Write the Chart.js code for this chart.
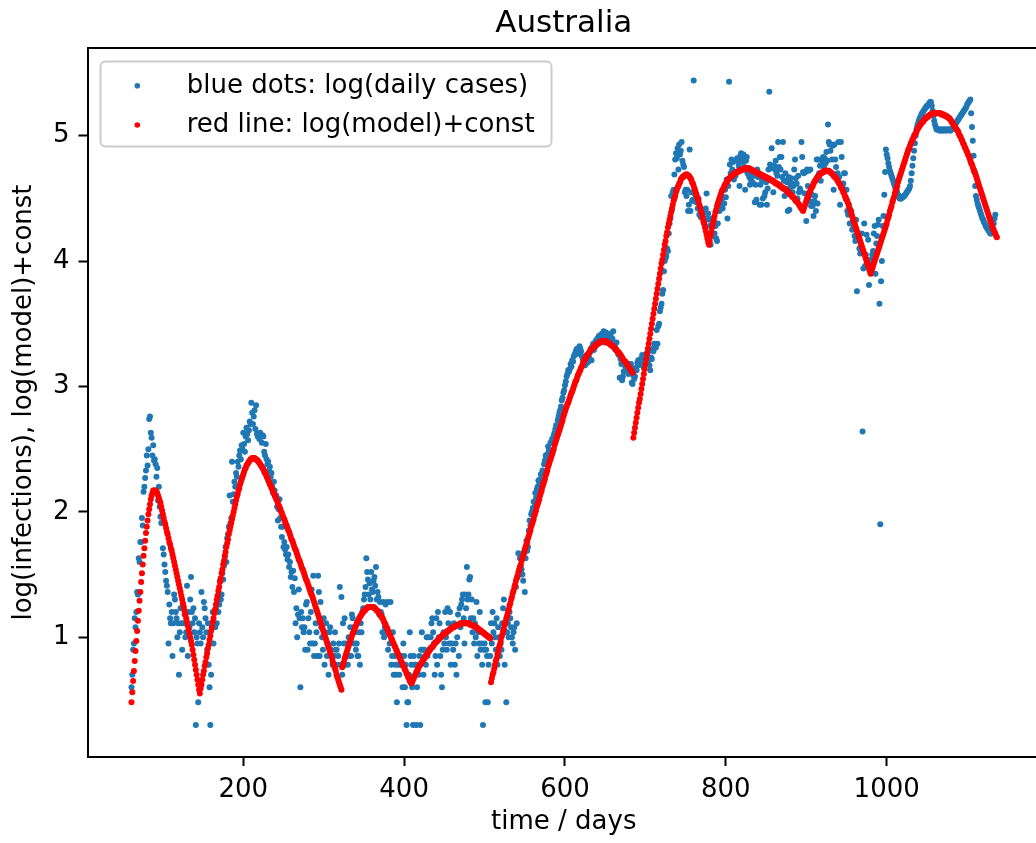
<!DOCTYPE html>
<html>
<head>
<meta charset="utf-8">
<title>Australia</title>
<script src="https://cdn.jsdelivr.net/npm/chart.js@4.4.1/dist/chart.umd.min.js"></script>
<style>
  html, body { margin: 0; padding: 0; background: #fff; overflow: hidden; }
  #wrap { width: 1046px; height: 843px; }
</style>
</head>
<body>
<div id="wrap"><canvas id="chart" width="1046" height="843"></canvas></div>
<script>
// both series are daily, starting at day 61
const firstDay = 61;

// log10 of reported daily cases (blue dots)
const dailyCases = [
  0.60, 0.70, 0.90, 0.95, 1.15, 1.08, 1.20, 1.36, 1.34, 1.63,
  1.60, 1.76, 1.76, 1.95, 1.89, 2.16, 2.20, 2.27, 2.33, 2.45,
  2.37, 2.50, 2.74, 2.76, 2.63, 2.59, 2.45, 2.53, 2.41, 2.42,
  2.38, 2.28, 2.35, 2.09, 2.20, 2.04, 1.96, 1.91, 1.97, 1.71,
  1.66, 1.58, 1.52, 1.45, 1.41, 1.36, 0.95, 1.26, 1.15, 1.11,
  1.20, 0.85, 1.11, 1.34, 1.30, 1.20, 1.15, 1.00, 1.11, 0.70,
  1.04, 1.23, 1.11, 0.90, 1.26, 1.11, 1.18, 1.00, 1.04, 1.41,
  0.85, 1.20, 1.08, 1.30, 1.48, 1.20, 1.11, 1.23, 1.04, 1.15,
  0.30, 1.00, 0.95, 0.48, 1.11, 1.04, 0.95, 1.36, 1.08, 1.00,
  1.28, 1.23, 1.15, 1.04, 0.90, 1.11, 0.78, 0.60, 0.30, 0.70,
  1.08, 1.20, 0.95, 1.11, 1.08, 1.23, 1.11, 1.28, 1.20, 1.26,
  1.45, 1.30, 1.34, 1.51, 1.46, 1.57, 1.64, 1.72, 1.60, 1.79,
  1.82, 1.88, 2.13, 1.91, 1.95, 2.40, 2.08, 2.14, 2.24, 2.20,
  2.31, 2.28, 2.40, 2.36, 2.45, 2.49, 2.42, 2.53, 2.50, 2.63,
  2.54, 2.48, 2.60, 2.67, 2.62, 2.57, 2.65, 2.72, 2.70, 2.87,
  2.79, 2.70, 2.76, 2.81, 2.66, 2.85, 2.62, 2.60, 2.62, 2.58,
  2.63, 2.61, 2.55, 2.61, 2.60, 2.48, 2.45, 2.54, 2.42, 2.38,
  2.40, 2.33, 2.36, 2.28, 2.31, 2.20, 2.15, 2.24, 2.17, 2.12,
  2.13, 2.04, 1.93, 2.02, 2.10, 1.95, 1.88, 1.80, 1.88, 1.72,
  1.76, 1.70, 1.66, 1.72, 1.62, 1.66, 1.56, 1.60, 1.48, 1.52,
  1.40, 1.53, 1.36, 1.47, 1.11, 1.23, 1.00, 1.18, 1.38, 1.15,
  0.60, 1.20, 1.08, 1.15, 1.04, 1.08, 0.90, 1.26, 1.28, 0.90,
  1.15, 1.04, 0.95, 1.20, 1.38, 0.95, 1.49, 0.85, 0.95, 1.11,
  1.04, 0.85, 1.49, 1.36, 0.85, 1.28, 1.08, 1.00, 0.90, 1.15,
  0.78, 1.04, 1.11, 0.85, 0.95, 0.70, 1.04, 1.08, 0.90, 0.85,
  0.78, 0.95, 0.85, 1.04, 0.90, 0.90, 0.78, 0.85, 0.95, 1.40,
  0.78, 1.32, 0.70, 1.11, 0.95, 1.15, 0.78, 0.95, 0.85, 0.78,
  1.00, 0.85, 1.08, 0.85, 1.18, 1.15, 1.08, 0.95, 1.04, 0.90,
  0.95, 0.85, 0.85, 1.04, 0.78, 1.11, 1.04, 1.20, 1.23, 1.30,
  1.34, 1.40, 1.63, 1.52, 1.46, 1.34, 1.43, 1.30, 1.52, 1.38,
  1.36, 1.45, 1.48, 1.41, 1.56, 1.30, 1.36, 1.32, 1.18, 1.28,
  1.20, 1.18, 1.04, 1.28, 1.00, 1.08, 1.26, 1.04, 1.28, 0.90,
  1.04, 0.95, 1.28, 0.78, 0.85, 1.04, 0.70, 0.85, 0.78, 0.70,
  0.48, 0.78, 0.85, 0.70, 0.78, 0.85, 0.78, 0.60, 0.95, 0.85,
  0.60, 0.78, 0.30, 0.48, 0.48, 0.70, 1.04, 0.85, 0.78, 0.60,
  0.30, 0.85, 0.78, 0.78, 0.30, 0.60, 0.78, 0.70, 0.85, 0.30,
  0.90, 1.04, 0.90, 0.70, 0.90, 0.85, 0.78, 1.00, 0.85, 1.00,
  0.90, 0.90, 1.00, 1.11, 1.15, 1.04, 0.95, 0.70, 0.85, 1.15,
  0.78, 1.20, 1.00, 1.11, 0.85, 0.70, 0.60, 0.90, 1.04, 0.95,
  1.20, 1.00, 0.90, 1.23, 1.11, 0.95, 1.20, 0.78, 0.95, 1.08,
  0.90, 1.11, 0.78, 0.95, 0.70, 1.00, 1.18, 0.85, 1.23, 1.08,
  1.26, 1.30, 1.34, 1.15, 0.95, 1.34, 1.23, 1.56, 1.30, 1.34,
  1.46, 1.48, 1.15, 1.30, 1.04, 1.15, 0.95, 1.11, 1.00, 1.28,
  0.85, 1.04, 0.95, 1.20, 0.90, 0.95, 0.78, 0.30, 0.90, 0.95,
  0.48, 0.90, 0.85, 0.48, 0.78, 1.00, 0.85, 1.11, 0.95, 1.20,
  1.04, 1.11, 1.00, 0.90, 1.15, 0.78, 1.08, 1.00, 0.85, 0.95,
  0.90, 1.11, 1.23, 1.30, 0.78, 1.04, 0.48, 1.04, 1.11, 1.00,
  1.20, 1.15, 1.08, 1.00, 0.95, 1.04, 1.08, 0.90, 1.40, 1.11,
  1.48, 1.67, 1.52, 1.63, 1.57, 1.54, 1.50, 1.45, 1.68, 1.36,
  1.63, 1.77, 1.69, 1.72, 1.85, 1.93, 1.89, 1.98, 2.00, 2.03,
  2.08, 2.04, 2.15, 2.11, 2.18, 2.20, 2.25, 2.22, 2.26, 2.30,
  2.25, 2.33, 2.31, 2.38, 2.41, 2.45, 2.43, 2.46, 2.52, 2.49,
  2.49, 2.55, 2.47, 2.58, 2.56, 2.61, 2.63, 2.66, 2.69, 2.68,
  2.73, 2.76, 2.79, 2.81, 2.84, 2.89, 2.91, 2.95, 2.97, 3.01,
  3.04, 3.08, 3.10, 3.13, 3.12, 3.14, 3.18, 3.16, 3.21, 3.20,
  3.24, 3.25, 3.27, 3.29, 3.30, 3.26, 3.30, 3.32, 3.30, 3.28,
  3.24, 3.22, 3.21, 3.19, 3.17, 3.22, 3.25, 3.19, 3.20, 3.23,
  3.27, 3.30, 3.21, 3.32, 3.34, 3.29, 3.31, 3.36, 3.33, 3.38,
  3.34, 3.40, 3.39, 3.41, 3.37, 3.42, 3.40, 3.44, 3.35, 3.41,
  3.43, 3.38, 3.35, 3.41, 3.39, 3.40, 3.42, 3.36, 3.38, 3.44,
  3.34, 3.33, 3.29, 3.35, 3.28, 3.26, 3.25, 3.07, 3.22, 3.18,
  3.05, 3.08, 3.12, 3.19, 3.16, 3.15, 3.16, 3.12, 3.10, 3.18,
  3.17, 3.18, 3.03, 3.02, 3.09, 3.06, 3.08, 3.15, 3.13, 3.19,
  3.21, 3.17, 3.20, 3.22, 3.18, 3.25, 3.21, 3.15, 3.22, 3.19,
  3.26, 3.24, 3.20, 3.28, 3.17, 3.13, 3.23, 3.22, 3.30, 3.28,
  3.34, 3.32, 3.31, 3.45, 3.34, 3.48, 3.50, 3.60, 3.63, 3.66,
  3.74, 3.77, 3.92, 4.00, 4.02, 4.04, 4.10, 4.08, 4.22, 4.30,
  4.34, 4.52, 4.41, 4.55, 4.57, 4.69, 4.81, 4.86, 4.82, 4.90,
  4.73, 4.93, 4.85, 4.88, 4.95, 4.80, 4.77, 4.75, 4.55, 4.57,
  4.52, 4.57, 4.40, 4.45, 4.89, 4.40, 4.55, 4.48, 4.49, 5.44,
  4.54, 4.50, 4.47, 4.49, 4.42, 4.50, 4.37, 4.41, 4.35, 4.41,
  4.37, 4.41, 4.30, 4.39, 4.42, 4.54, 4.34, 4.38, 4.33, 4.28,
  4.13, 4.27, 4.34, 4.20, 4.30, 4.22, 4.28, 4.18, 4.16, 4.30,
  4.45, 4.40, 4.49, 4.45, 4.47, 4.42, 4.51, 4.46, 4.57, 4.51,
  4.65, 4.34, 4.60, 5.43, 4.77, 4.70, 4.81, 4.73, 4.79, 4.65,
  4.71, 4.68, 4.80, 4.82, 4.80, 4.76, 4.60, 4.84, 4.86, 4.82,
  4.79, 4.85, 4.75, 4.57, 4.80, 4.83, 4.70, 4.72, 4.67, 4.61,
  4.65, 4.69, 4.63, 4.62, 4.68, 4.47, 4.61, 4.49, 4.73, 4.67,
  4.70, 4.45, 4.61, 4.45, 4.64, 4.50, 4.65, 4.52, 4.55, 4.63,
  4.45, 4.58, 4.73, 5.35, 4.77, 4.74, 4.90, 4.75, 4.55, 4.76,
  4.73, 4.80, 4.70, 4.68, 4.95, 4.75, 4.83, 4.73, 4.83, 4.67,
  4.95, 4.64, 4.52, 4.70, 4.64, 4.63, 4.40, 4.67, 4.41, 4.59,
  4.66, 4.62, 4.55, 4.60, 4.73, 4.81, 4.66, 4.62, 4.50, 4.68,
  4.55, 4.58, 4.56, 4.95, 4.83, 4.71, 4.70, 4.54, 4.71, 4.32,
  4.73, 4.60, 4.72, 4.48, 4.73, 4.44, 4.53, 4.44, 4.36, 4.48,
  4.52, 4.40, 4.81, 4.46, 4.81, 4.70, 4.76, 4.64, 4.81, 4.78,
  4.83, 4.75, 4.82, 4.78, 4.87, 4.80, 5.09, 4.95, 4.93, 4.88,
  4.93, 4.81, 4.92, 4.57, 4.93, 4.81, 4.75, 4.67, 4.70, 4.95,
  4.67, 4.45, 4.95, 4.83, 4.60, 4.62, 4.70, 4.70, 4.50, 4.57,
  4.40, 4.37, 4.45, 4.30, 4.40, 4.40, 4.25, 4.32, 4.28, 4.20,
  4.16, 4.33, 3.76, 4.17, 4.22, 4.10, 4.06, 4.12, 4.22, 2.64,
  3.94, 4.30, 3.96, 4.05, 4.21, 4.00, 4.17, 3.81, 3.93, 4.01,
  3.99, 4.05, 4.08, 4.22, 4.28, 3.90, 4.14, 4.20, 4.29, 4.33,
  3.66, 1.90, 3.84, 4.00, 4.28, 4.36, 4.53, 4.71, 4.89, 4.85,
  4.82, 4.78, 4.75, 4.72, 4.70, 4.68, 4.66, 4.64, 4.62, 4.60,
  4.58, 4.57, 4.55, 4.53, 4.52, 4.50, 4.50, 4.50, 4.51, 4.51,
  4.52, 4.52, 4.53, 4.54, 4.55, 4.56, 4.57, 4.58, 4.60, 4.64,
  4.70, 4.76, 4.82, 4.88, 4.94, 5.00, 5.05, 5.08, 5.10, 5.12,
  5.14, 5.15, 5.17, 5.18, 5.19, 5.20, 5.21, 5.22, 5.23, 5.24,
  5.24, 5.25, 5.26, 5.27, 5.27, 5.24, 5.20, 5.16, 5.12, 5.09,
  5.07, 5.05, 5.05, 5.05, 5.05, 5.04, 5.05, 5.05, 5.05, 5.04,
  5.05, 5.05, 5.05, 5.04, 5.05, 5.05, 5.05, 5.05, 5.04, 5.05,
  5.05, 5.06, 5.07, 5.08, 5.09, 5.10, 5.11, 5.12, 5.13, 5.14,
  5.15, 5.16, 5.17, 5.18, 5.19, 5.20, 5.21, 5.22, 5.23, 5.25,
  5.26, 5.27, 5.28, 5.29, 5.18, 5.07, 4.96, 4.84, 4.72, 4.60,
  4.52, 4.49, 4.46, 4.44, 4.42, 4.40, 4.38, 4.36, 4.34, 4.33,
  4.31, 4.30, 4.28, 4.27, 4.26, 4.25, 4.24, 4.23, 4.22, 4.22,
  4.23, 4.26, 4.30, 4.34, 4.37
];

// log of the fitted model plus a constant (red line)
const model = [
  0.48, 0.56, 0.65, 0.73, 0.81, 0.89, 0.97, 1.05, 1.13, 1.21,
  1.29, 1.36, 1.44, 1.51, 1.58, 1.65, 1.71, 1.77, 1.83, 1.88,
  1.93, 1.98, 2.02, 2.06, 2.10, 2.13, 2.15, 2.17, 2.17, 2.17,
  2.17, 2.16, 2.15, 2.13, 2.11, 2.09, 2.07, 2.04, 2.01, 1.98,
  1.95, 1.92, 1.90, 1.87, 1.84, 1.82, 1.79, 1.76, 1.74, 1.71,
  1.69, 1.66, 1.63, 1.60, 1.57, 1.54, 1.51, 1.48, 1.45, 1.42,
  1.39, 1.36, 1.33, 1.30, 1.27, 1.24, 1.21, 1.18, 1.15, 1.12,
  1.09, 1.06, 1.03, 1.00, 0.97, 0.94, 0.90, 0.86, 0.82, 0.78,
  0.74, 0.70, 0.66, 0.62, 0.58, 0.55, 0.59, 0.62, 0.66, 0.70,
  0.73, 0.77, 0.80, 0.84, 0.87, 0.91, 0.94, 0.98, 1.01, 1.05,
  1.08, 1.12, 1.15, 1.19, 1.22, 1.26, 1.30, 1.33, 1.37, 1.40,
  1.44, 1.47, 1.51, 1.54, 1.58, 1.61, 1.65, 1.68, 1.72, 1.75,
  1.78, 1.82, 1.85, 1.88, 1.91, 1.94, 1.97, 2.00, 2.03, 2.06,
  2.09, 2.12, 2.14, 2.17, 2.19, 2.22, 2.24, 2.26, 2.28, 2.30,
  2.32, 2.34, 2.35, 2.37, 2.38, 2.39, 2.40, 2.41, 2.42, 2.42,
  2.43, 2.43, 2.43, 2.43, 2.42, 2.42, 2.41, 2.41, 2.40, 2.39,
  2.38, 2.37, 2.36, 2.35, 2.34, 2.32, 2.31, 2.30, 2.28, 2.27,
  2.25, 2.24, 2.22, 2.21, 2.19, 2.18, 2.16, 2.15, 2.13, 2.12,
  2.10, 2.09, 2.07, 2.05, 2.04, 2.02, 2.00, 1.99, 1.97, 1.95,
  1.94, 1.92, 1.90, 1.89, 1.87, 1.85, 1.84, 1.82, 1.80, 1.78,
  1.77, 1.75, 1.73, 1.71, 1.70, 1.68, 1.66, 1.64, 1.62, 1.61,
  1.59, 1.57, 1.55, 1.54, 1.52, 1.50, 1.48, 1.46, 1.45, 1.43,
  1.41, 1.39, 1.37, 1.35, 1.34, 1.32, 1.30, 1.28, 1.26, 1.24,
  1.22, 1.20, 1.18, 1.16, 1.14, 1.12, 1.10, 1.08, 1.06, 1.04,
  1.02, 1.00, 0.98, 0.96, 0.94, 0.92, 0.90, 0.88, 0.86, 0.84,
  0.81, 0.79, 0.77, 0.75, 0.73, 0.70, 0.68, 0.66, 0.64, 0.62,
  0.60, 0.58, 0.76, 0.78, 0.80, 0.83, 0.85, 0.87, 0.89, 0.91,
  0.93, 0.95, 0.97, 0.99, 1.01, 1.03, 1.04, 1.06, 1.08, 1.09,
  1.11, 1.12, 1.13, 1.15, 1.16, 1.17, 1.18, 1.19, 1.20, 1.21,
  1.21, 1.22, 1.23, 1.23, 1.24, 1.24, 1.24, 1.24, 1.24, 1.24,
  1.24, 1.24, 1.23, 1.23, 1.22, 1.21, 1.21, 1.20, 1.19, 1.18,
  1.17, 1.16, 1.15, 1.14, 1.12, 1.11, 1.10, 1.08, 1.07, 1.05,
  1.04, 1.02, 1.01, 0.99, 0.98, 0.96, 0.95, 0.93, 0.92, 0.90,
  0.89, 0.87, 0.86, 0.84, 0.83, 0.81, 0.80, 0.78, 0.77, 0.76,
  0.74, 0.73, 0.71, 0.70, 0.68, 0.67, 0.65, 0.64, 0.63, 0.64,
  0.66, 0.67, 0.69, 0.70, 0.72, 0.73, 0.74, 0.76, 0.77, 0.78,
  0.79, 0.80, 0.81, 0.82, 0.83, 0.84, 0.85, 0.86, 0.87, 0.88,
  0.89, 0.90, 0.91, 0.92, 0.92, 0.93, 0.94, 0.95, 0.96, 0.96,
  0.97, 0.98, 0.98, 0.99, 1.00, 1.00, 1.01, 1.02, 1.02, 1.03,
  1.03, 1.04, 1.04, 1.05, 1.05, 1.06, 1.06, 1.07, 1.07, 1.08,
  1.08, 1.08, 1.09, 1.09, 1.09, 1.10, 1.10, 1.10, 1.10, 1.11,
  1.11, 1.11, 1.11, 1.11, 1.11, 1.11, 1.11, 1.11, 1.11, 1.11,
  1.11, 1.10, 1.10, 1.10, 1.10, 1.09, 1.09, 1.09, 1.08, 1.08,
  1.07, 1.07, 1.06, 1.06, 1.05, 1.05, 1.04, 1.04, 1.03, 1.03,
  1.02, 1.02, 1.01, 1.01, 1.00, 1.00, 0.99, 0.64, 0.67, 0.70,
  0.72, 0.75, 0.78, 0.81, 0.83, 0.86, 0.89, 0.92, 0.94, 0.97,
  1.00, 1.02, 1.05, 1.07, 1.10, 1.12, 1.15, 1.17, 1.20, 1.22,
  1.25, 1.27, 1.30, 1.32, 1.35, 1.37, 1.40, 1.42, 1.45, 1.47,
  1.49, 1.52, 1.54, 1.56, 1.58, 1.61, 1.63, 1.65, 1.67, 1.70,
  1.72, 1.74, 1.76, 1.79, 1.81, 1.83, 1.85, 1.88, 1.90, 1.92,
  1.94, 1.97, 1.99, 2.01, 2.04, 2.06, 2.08, 2.10, 2.13, 2.15,
  2.17, 2.20, 2.22, 2.24, 2.26, 2.29, 2.31, 2.33, 2.36, 2.38,
  2.40, 2.42, 2.44, 2.46, 2.48, 2.50, 2.53, 2.55, 2.57, 2.59,
  2.61, 2.63, 2.65, 2.67, 2.69, 2.71, 2.73, 2.76, 2.78, 2.80,
  2.82, 2.84, 2.86, 2.87, 2.89, 2.91, 2.93, 2.95, 2.96, 2.98,
  3.00, 3.02, 3.04, 3.05, 3.07, 3.09, 3.10, 3.12, 3.13, 3.15,
  3.16, 3.18, 3.19, 3.21, 3.22, 3.23, 3.24, 3.25, 3.26, 3.27,
  3.28, 3.29, 3.30, 3.30, 3.31, 3.32, 3.32, 3.33, 3.33, 3.34,
  3.34, 3.35, 3.35, 3.35, 3.36, 3.36, 3.36, 3.36, 3.36, 3.36,
  3.36, 3.35, 3.35, 3.35, 3.34, 3.34, 3.33, 3.33, 3.32, 3.32,
  3.31, 3.30, 3.30, 3.29, 3.28, 3.27, 3.27, 3.26, 3.25, 3.24,
  3.23, 3.22, 3.21, 3.20, 3.20, 3.19, 3.18, 3.17, 3.16, 3.15,
  3.14, 3.13, 3.12, 3.11, 2.59, 2.63, 2.67, 2.71, 2.75, 2.79,
  2.83, 2.87, 2.90, 2.94, 2.98, 3.02, 3.06, 3.10, 3.14, 3.18,
  3.22, 3.26, 3.30, 3.34, 3.38, 3.42, 3.46, 3.50, 3.54, 3.58,
  3.62, 3.66, 3.70, 3.74, 3.78, 3.82, 3.86, 3.90, 3.94, 3.98,
  4.01, 4.05, 4.09, 4.13, 4.16, 4.20, 4.23, 4.27, 4.30, 4.33,
  4.36, 4.39, 4.42, 4.45, 4.48, 4.50, 4.52, 4.55, 4.57, 4.59,
  4.60, 4.62, 4.63, 4.65, 4.66, 4.67, 4.67, 4.68, 4.68, 4.69,
  4.69, 4.69, 4.68, 4.68, 4.67, 4.66, 4.65, 4.63, 4.62, 4.60,
  4.58, 4.56, 4.54, 4.52, 4.50, 4.48, 4.45, 4.43, 4.40, 4.38,
  4.35, 4.32, 4.30, 4.27, 4.24, 4.21, 4.18, 4.15, 4.13, 4.16,
  4.20, 4.23, 4.27, 4.30, 4.33, 4.36, 4.39, 4.41, 4.44, 4.46,
  4.48, 4.50, 4.52, 4.54, 4.56, 4.57, 4.58, 4.60, 4.61, 4.62,
  4.63, 4.64, 4.65, 4.66, 4.66, 4.67, 4.68, 4.68, 4.69, 4.69,
  4.70, 4.70, 4.71, 4.71, 4.71, 4.72, 4.72, 4.72, 4.73, 4.73,
  4.73, 4.73, 4.73, 4.74, 4.74, 4.74, 4.74, 4.74, 4.74, 4.73,
  4.73, 4.73, 4.72, 4.72, 4.72, 4.71, 4.71, 4.71, 4.70, 4.70,
  4.70, 4.69, 4.69, 4.69, 4.68, 4.68, 4.68, 4.67, 4.67, 4.67,
  4.66, 4.66, 4.66, 4.65, 4.65, 4.65, 4.64, 4.64, 4.64, 4.63,
  4.63, 4.62, 4.62, 4.62, 4.61, 4.61, 4.60, 4.60, 4.59, 4.59,
  4.58, 4.58, 4.58, 4.57, 4.57, 4.56, 4.55, 4.55, 4.54, 4.53,
  4.53, 4.52, 4.51, 4.51, 4.50, 4.49, 4.48, 4.48, 4.47, 4.46,
  4.45, 4.44, 4.43, 4.42, 4.41, 4.40, 4.42, 4.44, 4.46, 4.48,
  4.50, 4.51, 4.53, 4.55, 4.56, 4.58, 4.59, 4.60, 4.62, 4.63,
  4.64, 4.65, 4.66, 4.67, 4.68, 4.68, 4.69, 4.70, 4.70, 4.71,
  4.71, 4.71, 4.72, 4.72, 4.72, 4.72, 4.72, 4.72, 4.71, 4.71,
  4.70, 4.70, 4.69, 4.68, 4.67, 4.67, 4.66, 4.65, 4.64, 4.63,
  4.62, 4.61, 4.59, 4.58, 4.57, 4.55, 4.54, 4.52, 4.51, 4.49,
  4.48, 4.46, 4.44, 4.42, 4.40, 4.38, 4.36, 4.34, 4.32, 4.30,
  4.28, 4.26, 4.24, 4.22, 4.20, 4.18, 4.16, 4.14, 4.12, 4.10,
  4.08, 4.06, 4.04, 4.02, 4.00, 3.98, 3.96, 3.94, 3.92, 3.90,
  3.92, 3.94, 3.96, 3.98, 4.00, 4.02, 4.04, 4.06, 4.08, 4.10,
  4.12, 4.14, 4.16, 4.18, 4.20, 4.22, 4.24, 4.26, 4.28, 4.30,
  4.33, 4.35, 4.37, 4.40, 4.42, 4.44, 4.47, 4.49, 4.51, 4.54,
  4.56, 4.58, 4.60, 4.63, 4.65, 4.67, 4.69, 4.71, 4.73, 4.75,
  4.77, 4.79, 4.81, 4.83, 4.85, 4.87, 4.89, 4.90, 4.92, 4.94,
  4.95, 4.97, 4.98, 5.00, 5.01, 5.02, 5.03, 5.05, 5.06, 5.07,
  5.08, 5.09, 5.10, 5.11, 5.11, 5.12, 5.13, 5.14, 5.14, 5.15,
  5.15, 5.16, 5.16, 5.17, 5.17, 5.17, 5.18, 5.18, 5.18, 5.18,
  5.18, 5.18, 5.18, 5.18, 5.18, 5.18, 5.18, 5.17, 5.17, 5.17,
  5.17, 5.16, 5.16, 5.16, 5.15, 5.15, 5.14, 5.14, 5.13, 5.12,
  5.11, 5.10, 5.09, 5.08, 5.07, 5.06, 5.05, 5.04, 5.03, 5.01,
  5.00, 4.99, 4.97, 4.96, 4.94, 4.93, 4.91, 4.90, 4.88, 4.87,
  4.85, 4.84, 4.82, 4.80, 4.78, 4.77, 4.75, 4.73, 4.71, 4.70,
  4.68, 4.66, 4.64, 4.62, 4.60, 4.58, 4.56, 4.54, 4.52, 4.50,
  4.48, 4.46, 4.44, 4.42, 4.40, 4.38, 4.36, 4.34, 4.32, 4.30,
  4.28, 4.26, 4.25, 4.23, 4.22, 4.20, 4.19
];

const xTicks = [200, 400, 600, 800, 1000];
const yTicks = [1, 2, 3, 4, 5];

const blue = '#1f77b4';
const red = '#ff0000';
const fontFamily = '"DejaVu Sans", Verdana, sans-serif';

function toPoints(values) {
  return values.map((v, i) => ({ x: firstDay + i, y: v }));
}

// top/right spines, title and the boxed legend
const frame = {
  id: 'frame',
  afterDraw(chart) {
    const { ctx, chartArea: a } = chart;
    ctx.save();
    ctx.strokeStyle = '#000';
    ctx.lineWidth = 2;
    ctx.beginPath();
    ctx.moveTo(a.left, a.top);
    ctx.lineTo(a.right, a.top);
    ctx.lineTo(a.right, a.bottom);
    ctx.stroke();

    ctx.fillStyle = '#000';
    ctx.font = '31px ' + fontFamily;
    ctx.textAlign = 'center';
    ctx.textBaseline = 'alphabetic';
    ctx.fillText('Australia', (a.left + a.right) / 2, 32);

    // legend box
    const bx = 100.5, by = 61.5, bw = 451, bh = 85, r = 5;
    ctx.beginPath();
    ctx.roundRect(bx, by, bw, bh, r);
    ctx.fillStyle = 'rgba(255,255,255,0.8)';
    ctx.fill();
    ctx.strokeStyle = '#cccccc';
    ctx.lineWidth = 2;
    ctx.stroke();

    const rows = [
      { color: blue, text: 'blue dots: log(daily cases)', y: 92.5, my: 85.7 },
      { color: red, text: 'red line: log(model)+const', y: 131.5, my: 125 }
    ];
    ctx.font = '26px ' + fontFamily;
    ctx.textAlign = 'left';
    rows.forEach(row => {
      ctx.beginPath();
      ctx.arc(137.3, row.my, 2.8, 0, Math.PI * 2);
      ctx.fillStyle = row.color;
      ctx.fill();
      ctx.fillStyle = '#000';
      ctx.fillText(row.text, 186.7, row.y);
    });
    ctx.restore();
  }
};

Chart.defaults.font.family = fontFamily;
Chart.defaults.font.size = 26;
Chart.defaults.color = '#000';

var chart = new Chart(document.getElementById('chart'), {
  type: 'scatter',
  data: {
    datasets: [
      {
        label: 'red line: log(model)+const',
        data: toPoints(model),
        backgroundColor: red,
        borderWidth: 0,
        pointRadius: 3,
        order: 0
      },
      {
        label: 'blue dots: log(daily cases)',
        data: toPoints(dailyCases),
        backgroundColor: blue,
        borderWidth: 0,
        pointRadius: 3,
        order: 1
      }
    ]
  },
  options: {
    responsive: false,
    animation: false,
    devicePixelRatio: 1,
    layout: { padding: { top: 48, right: 6, bottom: 0, left: 0 } },
    plugins: {
      legend: { display: false },
      tooltip: { enabled: false }
    },
    scales: {
      x: {
        type: 'linear',
        min: 6.3,
        max: 1190.6,
        afterFit: s => { s.height = 86; },
        afterBuildTicks: s => { s.ticks = xTicks.map(v => ({ value: v })); },
        ticks: { autoSkip: false, maxRotation: 0, padding: 9, callback: v => String(v) },
        grid: { drawOnChartArea: false, tickLength: 9, tickWidth: 2, tickColor: '#000' },
        border: { color: '#000', width: 2 },
        title: { display: true, text: 'time / days', padding: { top: 0, bottom: 5.4 } }
      },
      y: {
        type: 'linear',
        min: 0.044,
        max: 5.70,
        afterFit: s => { s.width = 87.5; },
        afterBuildTicks: s => { s.ticks = yTicks.map(v => ({ value: v })); },
        ticks: { padding: 9, callback: v => String(v) },
        grid: { drawOnChartArea: false, tickLength: 9, tickWidth: 2, tickColor: '#000' },
        border: { color: '#000', width: 2 },
        title: { display: true, text: 'log(infections), log(model)+const', padding: { top: 8.4, bottom: 0 } }
      }
    }
  },
  plugins: [frame]
});
</script>
</body>
</html>
